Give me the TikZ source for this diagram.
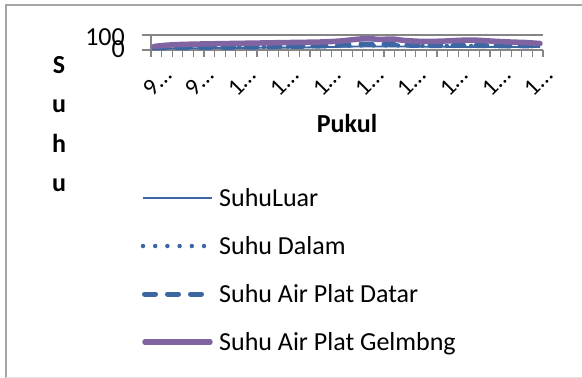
\documentclass[tikz,border=0pt]{standalone}
\usepackage{fontspec}
\usepackage{graphicx}
\setmainfont{Carlito}
\definecolor{serblue}{RGB}{60,103,163}
\definecolor{serpurple}{RGB}{128,100,162}
\definecolor{axgray}{RGB}{134,134,134}
\definecolor{framegray}{RGB}{165,165,165}
\tikzset{
  lbl/.style={font=\fontsize{26}{31}\selectfont, inner sep=0pt, text=black},
  boldlbl/.style={font=\fontsize{26}{31}\selectfont\bfseries, inner sep=0pt, text=black},
  ticklbl/.style={font=\fontsize{24}{28}\selectfont, inner sep=0pt, text=black},
  axisline/.style={axgray, line width=1.5pt},
  tickline/.style={axgray, line width=1.2pt},
  luarline/.style={serblue, line width=1.8pt},
  dalamline/.style={serblue, line width=4.5pt, line cap=round, dash pattern=on 0pt off 12.2pt},
  datarline/.style={serblue, line width=5pt, line cap=round, dash pattern=on 11pt off 12pt},
  gelline/.style={serpurple, line width=5.5pt, line cap=round, line join=round}
}
\begin{document}
\begin{tikzpicture}[x=1pt,y=-1pt]
\useasboundingbox (0,0) rectangle (582,378);
% chart frame
\draw[framegray, line width=1.5pt] (6,380) -- (6,5) -- (584,5);
\draw[black!10, line width=1pt] (6,377.5) -- (584,377.5);
% axes and gridline
\draw[axisline] (142,35) -- (543,35);
\draw[axisline] (151,35) -- (151,50);
\draw[axisline] (142,50) -- (543,50);
\foreach \i in {0,...,37} \draw[tickline] ({151+\i*392/37},50) -- ++(0,7);
% y labels
\node[lbl, anchor=base east] (y100) at (125,45) {100};
\node[lbl, anchor=base east] (y0) at (125,57) {0};
% x labels
\foreach \t [count=\k from 0] in {9…,9…,1…,1…,1…,1…,1…,1…,1…,1…}
  \node[ticklbl] (xl\k) at ({151+(4*\k+0.5)*392/37+1},82) {\rotatebox{45}{\t}};
% axis titles
\node[boldlbl, anchor=base] (xtitle) at (347,132.7) {Pukul};
\node[boldlbl, anchor=base] (yt1) at (59,73) {S};
\node[boldlbl, anchor=base] (yt2) at (59,112.5) {u};
\node[boldlbl, anchor=base] (yt3) at (59,152) {h};
\node[boldlbl, anchor=base] (yt4) at (59,191.5) {u};
% data series
\draw[luarline] plot[smooth] coordinates {(154,48.5) (220,48) (300,47.5) (360,46.5) (400,46.5) (470,47) (540,47)};
\draw[dalamline] plot[smooth] coordinates {(154,47.5) (220,47) (300,46.5) (360,45.5) (400,45.5) (470,46) (540,46)};
\draw[datarline] plot[smooth] coordinates {(154,48) (200,47.5) (260,47) (320,46) (345,45) (368,44) (390,44.5) (420,45.5) (470,45.5) (510,46) (540,45.5)};
\draw[gelline] plot[smooth] coordinates {(154,46.5) (165,45.3) (180,44.5) (200,44) (230,43.5) (260,43) (290,42.5) (320,42) (340,41) (355,39.5) (368,38.5) (380,39.5) (392,39) (405,40.5) (425,41.5) (445,41) (470,40) (490,41) (510,42) (525,42.5) (540,43.5)};
% legend
\draw[luarline] (143,198) -- (212,198);
\draw[dalamline] (143,246) -- (205,246);
\draw[datarline] (144.5,294) -- (202,294);
\draw[gelline] (145,342) -- (210,342);
\node[lbl, anchor=base west] (lg1) at (219,206) {SuhuLuar};
\node[lbl, anchor=base west] (lg2) at (219,254) {Suhu Dalam};
\node[lbl, anchor=base west] (lg3) at (219,302) {Suhu Air Plat Datar};
\node[lbl, anchor=base west] (lg4) at (219,350) {Suhu Air Plat Gelmbng};
\end{tikzpicture}
\end{document}
